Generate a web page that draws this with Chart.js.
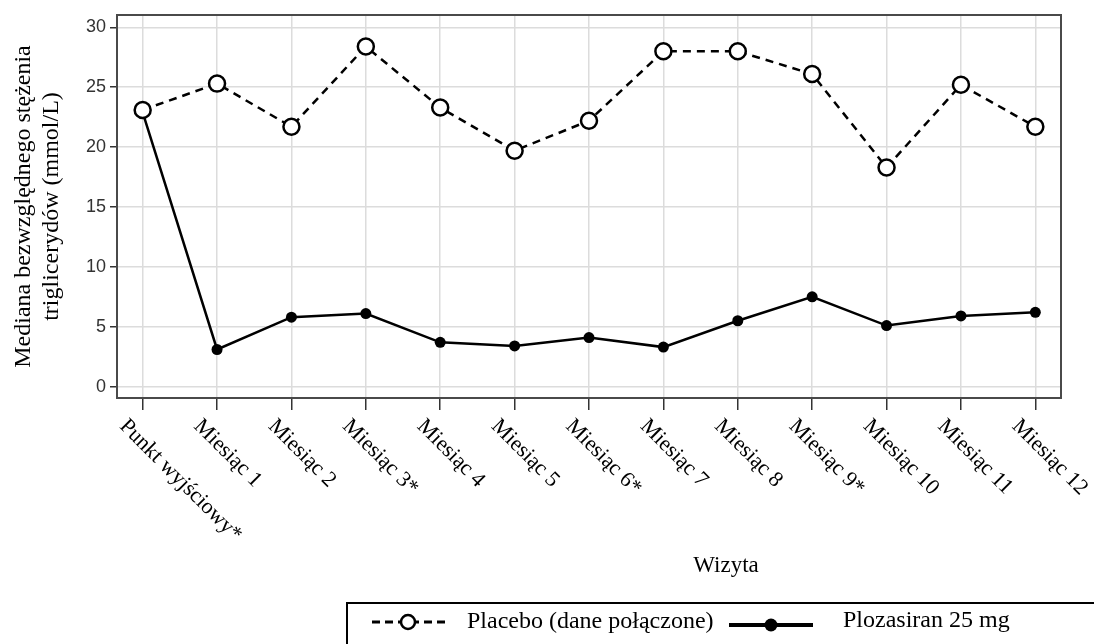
<!DOCTYPE html>
<html>
<head>
<meta charset="utf-8">
<script src="https://cdn.jsdelivr.net/npm/chart.js@4.4.1/dist/chart.umd.min.js"></script>
<style>
  html, body { margin: 0; padding: 0; background: #fff; }
</style>
</head>
<body>
<canvas id="chart" width="1094" height="644"></canvas>
<script>
// --- data ---
const visits = [
  "Punkt wyjściowy*", "Miesiąc 1", "Miesiąc 2", "Miesiąc 3*", "Miesiąc 4",
  "Miesiąc 5", "Miesiąc 6*", "Miesiąc 7", "Miesiąc 8", "Miesiąc 9*",
  "Miesiąc 10", "Miesiąc 11", "Miesiąc 12"
];
const placebo = [23.1, 25.3, 21.7, 28.4, 23.3, 19.7, 22.2, 28.0, 28.0, 26.1, 18.3, 25.2, 21.7];
const plozasiran = [22.9, 3.1, 5.8, 6.1, 3.7, 3.4, 4.1, 3.3, 5.5, 7.5, 5.1, 5.9, 6.2];
const yTicks = [0, 5, 10, 15, 20, 25, 30];
const seriesNames = ["Placebo (dane połączone)", "Plozasiran 25 mg"];
const yTitle = ["Mediana bezwzględnego stężenia", "triglicerydów (mmol/L)"];
const xTitle = "Wizyta";

const serif = '"Liberation Serif", "Times New Roman", serif';
const sans = '"Liberation Sans", Arial, sans-serif';

const toPoints = (vals) => vals.map((v, i) => ({ x: i, y: v }));

// draws the frame, the slanted visit labels, the x title and the legend box
const extras = {
  id: "extras",
  afterDraw(chart) {
    const { ctx, chartArea: a, scales } = chart;
    const xs = scales.x;
    ctx.save();

    // frame round the plot
    ctx.strokeStyle = "#4a4a4a";
    ctx.lineWidth = 2;
    ctx.strokeRect(a.left, a.top, a.right - a.left, a.bottom - a.top);

    // visit labels hang from the ticks, turned 45 degrees clockwise
    ctx.fillStyle = "#000";
    ctx.font = "22px " + serif;
    ctx.textAlign = "left";
    ctx.textBaseline = "alphabetic";
    visits.forEach((lab, i) => {
      const px = xs.getPixelForValue(i);
      ctx.save();
      ctx.translate(px - 24, a.bottom + 29);
      ctx.rotate(Math.PI / 4);
      ctx.fillText(lab, 0, 0);
      ctx.restore();
    });

    // x axis title
    ctx.font = "23px " + serif;
    ctx.textAlign = "center";
    ctx.fillText(xTitle, 726, 572);

    // legend box (runs off the right and bottom edge)
    ctx.strokeStyle = "#000";
    ctx.lineWidth = 2;
    ctx.strokeRect(347, 603, 800, 80);

    const ds = chart.data.datasets;
    const ly = 622;

    // placebo symbol
    ctx.strokeStyle = "#000";
    ctx.lineWidth = 3;
    ctx.setLineDash([8, 5]);
    ctx.beginPath();
    ctx.moveTo(372, ly);
    ctx.lineTo(446, ly);
    ctx.stroke();
    ctx.setLineDash([]);
    ctx.beginPath();
    ctx.arc(408, ly, 7, 0, Math.PI * 2);
    ctx.fillStyle = ds[0].pointBackgroundColor;
    ctx.fill();
    ctx.lineWidth = 2.5;
    ctx.stroke();

    // plozasiran symbol
    ctx.lineWidth = 4;
    ctx.beginPath();
    ctx.moveTo(729, ly + 3);
    ctx.lineTo(813, ly + 3);
    ctx.stroke();
    ctx.beginPath();
    ctx.arc(771, ly + 3, 6.5, 0, Math.PI * 2);
    ctx.fillStyle = ds[1].pointBackgroundColor;
    ctx.fill();

    ctx.fillStyle = "#000";
    ctx.font = "24px " + serif;
    ctx.textAlign = "left";
    ctx.fillText(seriesNames[0], 467, 628);
    ctx.fillText(seriesNames[1], 843, 627);

    ctx.restore();
  }
};

new Chart(document.getElementById("chart"), {
  type: "line",
  data: {
    datasets: [
      {
        label: seriesNames[0],
        data: toPoints(placebo),
        order: 0,
        borderColor: "#000",
        borderWidth: 2.5,
        borderDash: [8, 6],
        pointRadius: 8,
        pointBorderWidth: 2.5,
        pointBackgroundColor: "#fff",
        pointBorderColor: "#000",
        tension: 0
      },
      {
        label: seriesNames[1],
        data: toPoints(plozasiran),
        order: 1,
        borderColor: "#000",
        borderWidth: 2.5,
        pointRadius: 5.5,
        pointBorderWidth: 0,
        pointBackgroundColor: "#000",
        pointBorderColor: "#000",
        tension: 0
      }
    ]
  },
  options: {
    responsive: false,
    animation: false,
    events: [],
    devicePixelRatio: 1,
    layout: { padding: { top: 15, right: 33, left: 0, bottom: 0 } },
    scales: {
      x: {
        type: "linear",
        min: -0.345,
        max: 12.345,
        afterBuildTicks: (s) => { s.ticks = visits.map((_, i) => ({ value: i })); },
        afterFit: (s) => { s.height = 246; },
        ticks: { display: false },
        border: { display: false },
        grid: {
          color: "#dcdcdc",
          lineWidth: 1.5,
          tickColor: "#333",
          tickLength: 12,
          tickWidth: 1.5
        }
      },
      y: {
        min: -0.95,
        max: 31.03,
        afterBuildTicks: (s) => { s.ticks = yTicks.map((v) => ({ value: v })); },
        afterFit: (s) => { s.width = 117; },
        border: { display: false },
        grid: {
          color: "#dcdcdc",
          lineWidth: 1.5,
          tickColor: "#333",
          tickLength: 7,
          tickWidth: 1.5
        },
        ticks: {
          color: "#333",
          padding: 4,
          font: { family: sans, size: 18 }
        },
        title: {
          display: true,
          text: yTitle,
          color: "#000",
          padding: { top: 9, bottom: 0 },
          font: { family: serif, size: 24, lineHeight: 1.2 }
        }
      }
    },
    plugins: {
      legend: { display: false },
      tooltip: { enabled: false }
    }
  },
  plugins: [extras]
});
</script>
</body>
</html>
